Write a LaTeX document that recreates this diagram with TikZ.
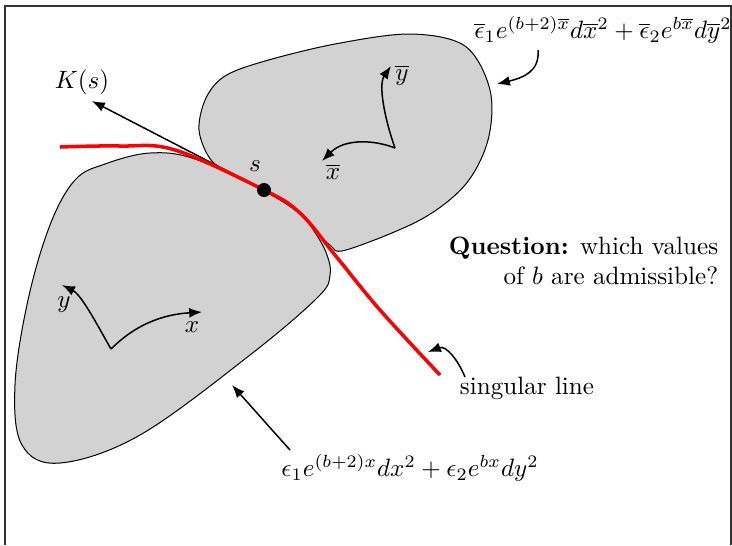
\documentclass[tikz,border=0pt]{standalone}
\usepackage{amsmath,amssymb}
\usepackage{tikz}
\usetikzlibrary{arrows.meta, positioning, calc}

\begin{document}
\begin{tikzpicture}[
    x=0.014cm, y=-0.014cm,
    blob/.style={draw, thin, fill=gray!35},
    singline/.style={red, line width=1.4pt},
    arrow/.style={-{Latex[length=1.8mm, width=1.4mm]}, semithick}
]
    \useasboundingbox (0,0) rectangle (732,545);
    % frame, bottom edge falls outside
    \draw[black!80, semithick] (5,545) -- (5,6) -- (731,6) -- (731,545);

    % the two charts
    \draw[blob] plot[smooth cycle, tension=0.6] coordinates {(75,180) (105,164) (150,153) (195,159) (264,191) (300,214) (316,234) (327,255) (330,275) (318,297) (250,355) (140,435) (60,463) (22,445) (15,385) (28,300) (50,225)};
    \draw[blob] plot[smooth cycle, tension=0.55] coordinates {(199,130) (206,98) (225,76) (265,61) (335,44) (410,34) (465,46) (490,90) (488,140) (465,185) (420,220) (346,250) (330,245) (314,230) (300,213) (264,190) (235,176) (211,160)};

    % singular line and the point s
    \coordinate (s) at (264,190);
    \node (Ks) at (82,82) {$K(s)$};
    \draw[arrow] (s) -- (92,101) coordinate (Ktip);
    \draw[singline] plot[smooth, tension=0.6] coordinates {(60,147) (120,146) (175,150) (264,190) (300,213) (335,255) (380,310) (440,375)};
    \fill (s) circle (7);
    \node (slabel) at (255,166) {$s$};

    % frames in the lower chart
    \coordinate (lo) at (111,349);
    \draw[arrow] (lo) .. controls (100,330) and (82,295) .. (62,285) coordinate (ytip);
    \draw[arrow] (lo) .. controls (140,320) and (170,314) .. (202,312) coordinate (xtip);
    \node (ylabel) at (64,305) {$y$};
    \node (xlabel) at (192,327) {$x$};

    % frames in the upper chart
    \coordinate (up) at (395,148);
    \draw[arrow] (up) .. controls (375,140) and (345,138) .. (322,161) coordinate (xbtip);
    \draw[arrow] (up) .. controls (385,120) and (378,85) .. (391,66) coordinate (ybtip);
    \node (yblabel) at (402,75) {$\overline{y}$};
    \node (xblabel) at (333,172) {$\overline{x}$};

    % metrics
    \node (topform) at (603,30) {$\overline{\epsilon}_1 e^{(b+2)\overline{x}} d\overline{x}^2 + \overline{\epsilon}_2 e^{b\overline{x}} d\overline{y}^2$};
    \coordinate (topfoot) at (538,50);
    \draw[arrow] (topfoot) .. controls (540,72) and (522,78) .. (497,84);
    \node (botform) at (410,468) {$\epsilon_1 e^{(b+2)x} dx^2 + \epsilon_2 e^{bx} dy^2$};
    \coordinate (botfoot) at (290,450);
    \draw[arrow] (botfoot) -- (232,385);

    % labels on the right
    \node (sing) at (527,388) {singular line};
    \coordinate (singfoot) at (465,377);
    \draw[arrow] (singfoot) .. controls (458,360) and (446,345) .. (428,352);
    \node[align=right, anchor=east] (quest) at (727,261) {\textbf{Question:} which values\\ of $b$ are admissible?};
\end{tikzpicture}
\end{document}
